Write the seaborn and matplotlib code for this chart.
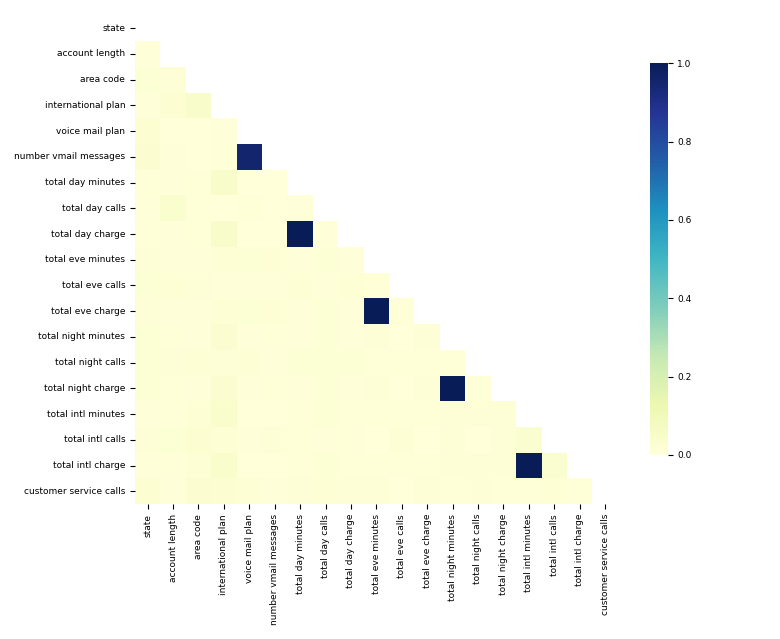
import numpy as np
import pandas as pd
import matplotlib
matplotlib.use("Agg")
import matplotlib.pyplot as plt
import seaborn as sns

# column names of the churn table
columns = ["state", "account length", "area code", "international plan",
           "voice mail plan", "number vmail messages", "total day minutes",
           "total day calls", "total day charge", "total eve minutes",
           "total eve calls", "total eve charge", "total night minutes",
           "total night calls", "total night charge", "total intl minutes",
           "total intl calls", "total intl charge", "customer service calls"]

# lower triangle of the correlation matrix, one list per row
lower_rows = [
    [],
    [0.004],
    [0.020, 0.012],
    [0.006, 0.025, 0.048],
    [0.025, 0.003, 0.000, 0.006],
    [0.030, 0.005, 0.000, 0.009, 0.957],
    [0.010, 0.007, 0.008, 0.049, 0.002, 0.000],
    [0.004, 0.038, 0.010, 0.003, 0.011, 0.000, 0.007],
    [0.010, 0.006, 0.008, 0.049, 0.002, 0.000, 1.000, 0.007],
    [0.015, 0.007, 0.004, 0.019, 0.021, 0.018, 0.007, 0.021, 0.007],
    [0.020, 0.019, 0.012, 0.006, 0.006, 0.006, 0.016, 0.006, 0.016, 0.011],
    [0.015, 0.007, 0.004, 0.019, 0.021, 0.018, 0.007, 0.021, 0.007, 1.000, 0.011],
    [0.020, 0.009, 0.005, 0.029, 0.006, 0.008, 0.004, 0.023, 0.004, 0.013, 0.002, 0.013],
    [0.020, 0.013, 0.016, 0.012, 0.016, 0.007, 0.023, 0.020, 0.023, 0.008, 0.008, 0.008, 0.011],
    [0.020, 0.009, 0.005, 0.029, 0.006, 0.008, 0.004, 0.023, 0.004, 0.013, 0.002, 0.013, 1.000, 0.011],
    [0.007, 0.010, 0.018, 0.046, 0.002, 0.003, 0.010, 0.022, 0.010, 0.011, 0.009, 0.011, 0.015, 0.014, 0.015],
    [0.014, 0.021, 0.024, 0.017, 0.007, 0.013, 0.008, 0.005, 0.008, 0.003, 0.017, 0.003, 0.012, 0.003, 0.012, 0.032],
    [0.007, 0.010, 0.018, 0.046, 0.002, 0.003, 0.010, 0.022, 0.010, 0.011, 0.009, 0.011, 0.015, 0.014, 0.015, 1.000, 0.032],
    [0.026, 0.004, 0.028, 0.025, 0.018, 0.007, 0.013, 0.019, 0.013, 0.013, 0.002, 0.013, 0.009, 0.013, 0.009, 0.010, 0.018, 0.010],
]

n = len(columns)
corr = np.eye(n)
for i, row in enumerate(lower_rows):
    for j, v in enumerate(row):
        corr[i, j] = v
        corr[j, i] = v
corr = pd.DataFrame(corr, index=columns, columns=columns)

mask = np.triu(np.ones_like(corr, dtype=bool))

fig = plt.figure(figsize=(7.8, 6.39), dpi=100)
ax = fig.add_axes([0.173, 0.211, 0.619, 0.765])
cax = fig.add_axes([0.833, 0.288, 0.023, 0.613])

sns.heatmap(corr, mask=mask, cmap="YlGnBu", ax=ax, cbar_ax=cax, square=False)

ax.tick_params(labelsize=6.5)
cax.tick_params(labelsize=6.5)
ax.set_xticklabels(columns, rotation=90)
ax.set_yticklabels(columns, rotation=0)

fig.savefig("out.png", dpi=100, facecolor="white")
